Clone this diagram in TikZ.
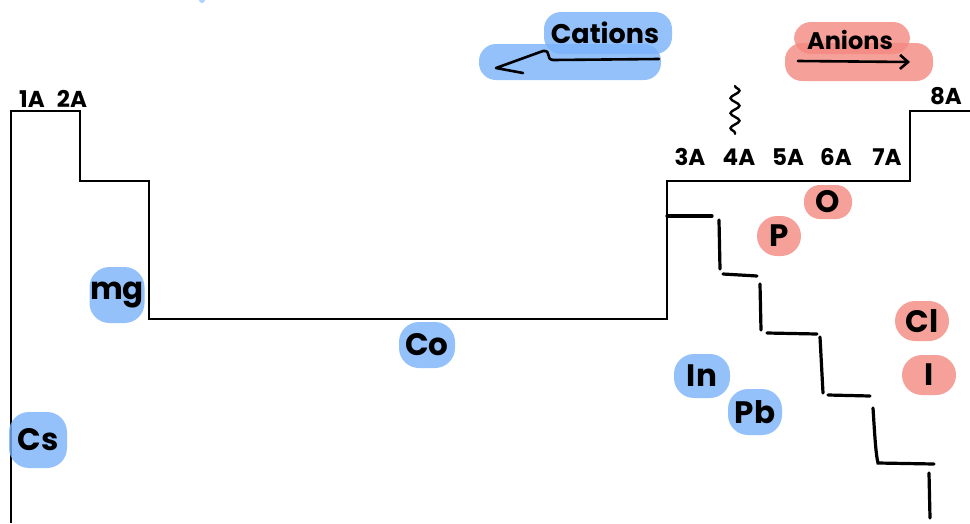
\documentclass[tikz,border=0pt]{standalone}
\usepackage{fontspec}
\setmainfont{Poppins}
\usetikzlibrary{arrows.meta,decorations.pathmorphing}
\definecolor{catblue}{RGB}{122,178,250}
\definecolor{anred}{RGB}{243,136,128}
\begin{document}
\begin{tikzpicture}[x=1pt,y=-1pt,
  outline/.style={line width=2pt,line join=miter},
  stair/.style={line width=3.2pt,line cap=round},
  pen/.style={line width=2.6pt,line cap=round,line join=round},
  grp/.style={font=\fontsize{23}{23}\selectfont\bfseries,inner sep=0pt},
  elem/.style={font=\fontsize{31}{31}\selectfont\bfseries,rounded corners=20pt,inner sep=0pt,fill opacity=0.8,text opacity=1},
  cat/.style={elem,fill=catblue},
  an/.style={elem,fill=anred},
  blob/.style={rounded corners=17pt,fill opacity=0.8,inner sep=0pt},
]
\useasboundingbox (0,0) rectangle (970,523);
\fill[catblue,opacity=0.6] (202,0) circle (3);

% table outline
\draw[outline] (11,523) -- (11,111) -- (80,111) -- (80,181) -- (149,181) -- (149,319)
  -- (667,319) -- (667,181) -- (910,181) -- (910,111) -- (970,111);

% metal / nonmetal staircase
\draw[stair] (667,216) -- (712,216);
\draw[stair] (719,220) -- (720,269);
\draw[stair] (723,274) -- (757,276);
\draw[stair] (760,284) -- (761,330);
\draw[stair] (767,333) -- (817,334);
\draw[stair] (820,337) -- (823,393);
\draw[stair] (828,395) -- (870,396);
\draw[stair] (873,408) .. controls (875,440) and (876,455) .. (878,463) -- (934,464);
\draw[stair] (929,473) -- (930,518);

% group labels
\node[grp] (g1) at (32,99) {1A};
\node[grp] (g2) at (72,99) {2A};
\node[grp] (g3) at (690,157) {3A};
\node[grp] (g4) at (739,157) {4A};
\node[grp] (g5) at (788,157) {5A};
\node[grp] (g6) at (836,157) {6A};
\node[grp] (g7) at (887,157) {7A};
\node[grp] (g8) at (946,96) {8A};
\coordinate (sqtop) at (735,86);
\coordinate (sqbot) at (735,134);
\draw[line width=2.4pt,line cap=round,decorate,decoration={snake,amplitude=4.5pt,segment length=15pt}] (sqtop) -- (sqbot);

% cations heading
\node[blob,fill=catblue,minimum width=182pt,minimum height=36pt] (catlow) at (570,62) {};
\node[blob,fill=catblue,minimum width=128pt,minimum height=42pt] (catup) at (608,33) {};
\node[font=\fontsize{27}{27}\selectfont\bfseries,inner sep=0pt] (cations) at (605,33) {Cations};
\coordinate (catR) at (659,59);
\coordinate (catTip) at (496,68);
\draw[pen] (catR) -- (553,60) .. controls (545,59) and (552,50) .. (543,51) -- (catTip) -- (523,73);

% anions heading
\node[blob,fill=anred,minimum width=148pt,minimum height=38pt] (anlow) at (859,62) {};
\node[blob,fill=anred,minimum width=116pt,minimum height=32pt] (anup) at (852,38) {};
\node[font=\fontsize{24}{24}\selectfont\bfseries,inner sep=0pt] (anions) at (850,40) {Anions};
\coordinate (anL) at (798,61);
\coordinate (anR) at (910,62);
\draw[pen,-{Straight Barb[length=8pt,width=14pt]}] (anL) -- (anR);

% elements
\node[cat,minimum width=58pt,minimum height=56pt] (cs) at (38,440) {Cs};
\node[cat,minimum width=55pt,minimum height=56pt] (mg) at (117,295) {mg};
\node[cat,minimum width=56pt,minimum height=46pt] (co) at (427,345) {Co};
\node[cat,minimum width=56pt,minimum height=44pt] (in) at (702,376) {In};
\node[cat,minimum width=54pt,minimum height=46pt] (pb) at (755,412) {Pb};
\node[an,minimum width=48pt,minimum height=34pt,rounded corners=16pt] (o) at (828,202) {O};
\node[an,minimum width=44pt,minimum height=40pt] (p) at (779,236) {P};
\node[an,minimum width=54pt,minimum height=40pt] (cl) at (922,321) {Cl};
\node[an,minimum width=54pt,minimum height=40pt] (i) at (929,375) {I};
\end{tikzpicture}
\end{document}
